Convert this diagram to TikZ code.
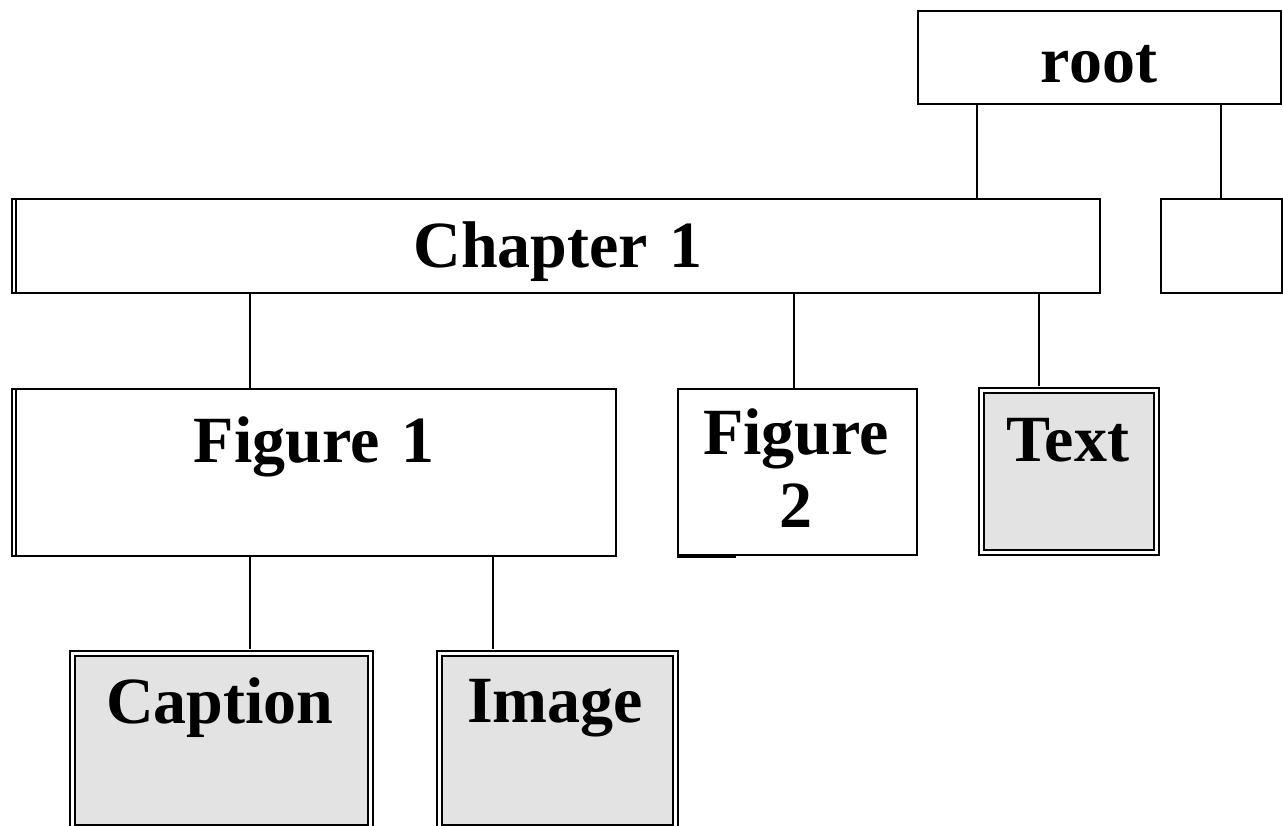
\documentclass[tikz,border=0pt]{standalone}
\usepackage{fontspec}
\setmainfont{Liberation Serif}
\definecolor{boxgray}{HTML}{E3E3E3}
\begin{document}
\begin{tikzpicture}[x=1pt,y=-1pt,
  box/.style={draw=black, line width=2.3pt, inner sep=0pt, anchor=north west},
  leaf/.style={draw=black, line width=2.2pt, double=white, double distance=2.8pt, fill=boxgray, inner sep=0pt, anchor=north west},
  lbl/.style={font=\fontsize{66}{73}\selectfont\bfseries, inner sep=0pt, anchor=base},
  conn/.style={draw=black, line width=2.2pt}]
\useasboundingbox (0,0) rectangle (1283,825);
% boxes
\node[box, minimum width=363pt, minimum height=93pt] (root) at (917,10) {};
\node[box, minimum width=1088pt, minimum height=94pt] (chap) at (11,198) {};
\node[box, minimum width=121pt, minimum height=94pt] (rbox) at (1160,198) {};
\node[box, minimum width=604pt, minimum height=167pt] (fig1) at (11,388) {};
\node[box, minimum width=239pt, minimum height=166pt] (fig2) at (677,388) {};
\node[leaf, minimum width=175pt, minimum height=162pt] (text) at (980.5,389.5) {};
\node[leaf, minimum width=298pt, minimum height=174pt] (capt) at (71.5,652.5) {};
\node[leaf, minimum width=236pt, minimum height=174pt] (img) at (438.5,652.5) {};
% extra border lines
\draw[conn] ([xshift=5pt]chap.north west) -- ([xshift=5pt]chap.south west);
\draw[conn] ([xshift=5pt]fig1.north west) -- ([xshift=5pt]fig1.south west);
\draw[conn] ([yshift=-1pt]fig2.south west) -- ([xshift=59pt,yshift=-1pt]fig2.south west);
% labels
\node[lbl] (troot) at (1099,82) {root};
\node[lbl] (tchap) at (558,267) {Chapter\hspace{5pt} 1};
\node[lbl] (tfig1) at (314,462) {Figure\hspace{5pt} 1};
\node[lbl] (tfig2a) at (796,454) {Figure};
\node[lbl] (tfig2b) at (796,527) {2};
\node[lbl] (ttext) at (1068,461) {Text};
\node[lbl] (tcapt) at (220,723) {Caption};
\node[lbl] (timg) at (555,722) {Image};
% connector x positions
\coordinate (xa) at (977,0);
\coordinate (xb) at (1221,0);
\coordinate (xc) at (250,0);
\coordinate (xd) at (794,0);
\coordinate (xe) at (1039,0);
\coordinate (xf) at (493,0);
% connectors
\draw[conn] (root.south -| xa) -- (chap.north -| xa);
\draw[conn] (root.south -| xb) -- (rbox.north -| xb);
\draw[conn] (chap.south -| xc) -- (fig1.north -| xc);
\draw[conn] (chap.south -| xd) -- (fig2.north -| xd);
\draw[conn] (chap.south -| xe) -- ([yshift=3.5pt]text.north -| xe);
\draw[conn] (fig1.south -| xc) -- ([yshift=3.5pt]capt.north -| xc);
\draw[conn] (fig1.south -| xf) -- ([yshift=3.5pt]img.north -| xf);
\end{tikzpicture}
\end{document}
